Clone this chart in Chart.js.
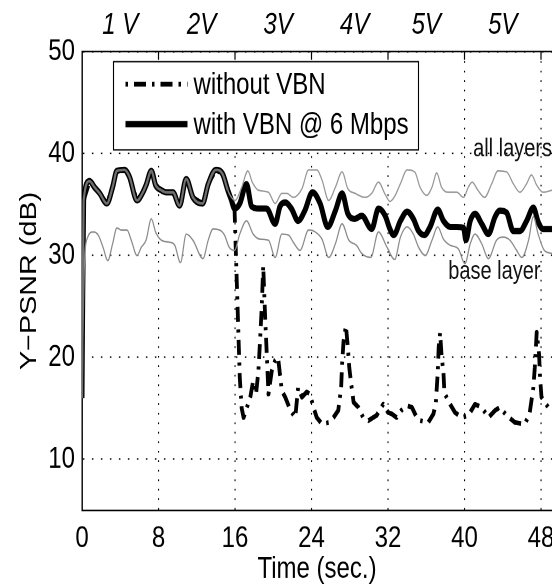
<!DOCTYPE html>
<html>
<head>
<meta charset="utf-8">
<script src="https://cdn.jsdelivr.net/npm/chart.js@4.4.1/dist/chart.umd.min.js"></script>
<style>
  html, body { margin: 0; padding: 0; background: #fff; overflow: hidden; }
  /* the figure is drawn on a 552x467 canvas and shown stretched to 584 tall,
     like the tall, narrow lettering of the original plot */
  #psnr-chart { display: block; width: 552px; height: 584px; }
</style>
</head>
<body>
<canvas id="psnr-chart" width="552" height="467" style="width:552px;height:584px"></canvas>
<script>
// Y-PSNR over time, with and without VBN
const FONT = '"Liberation Sans", Arial, sans-serif';

const xTickValues = [0, 8, 16, 24, 32, 40, 48];
const yTickValues = [10, 20, 30, 40, 50];
const viewTimes = [4, 12.5, 20.5, 28.5, 36, 44];
const viewLabels = ["1 V", "2V", "3V", "4V", "5V", "5V"];

// with VBN @ 6 Mbps (thick black)
const vbnTime = [
  0, 0.17, 0.8, 1.3, 1.85, 2.6, 3.2, 3.65, 4.45, 4.97,
  5.75, 6.37, 6.7, 7.25, 7.7, 8.3, 8.8, 9.5, 10.2, 10.9,
  11.6, 12.6, 13.2, 14.0, 14.7, 15.25, 15.6, 15.95, 16.5, 17.2,
  17.75, 18.45, 19.3, 20.2, 20.7, 21.25, 21.9, 22.6, 23.3, 24.1,
  24.9, 25.7, 26.5, 27.2, 27.8, 28.55, 29.25, 30.3, 31.0, 31.7,
  32.2, 32.6, 33.3, 34.0, 34.65, 35.2, 35.8, 36.4, 37.2, 37.8,
  38.5, 39.2, 39.9, 40.15, 40.6, 41.1, 41.8, 42.5, 43.2, 43.7,
  44.4, 45.1, 45.8, 46.5, 47.2, 47.7, 48.2, 49.15
];
const vbnPsnr = [
  16, 35.4, 37.3, 36.7, 36.1, 35.1, 36.7, 38.3, 38.4, 37.7,
  35.4, 36.2, 36.9, 38.3, 36.9, 36.4, 36.2, 36.2, 34.9, 37.5,
  35.7, 35.1, 37.0, 38.4, 38.0, 36.4, 35.5, 34.6, 35.1, 37.0,
  34.8, 34.6, 34.6, 33.1, 34.8, 35.2, 34.6, 33.4, 34.4, 36.2,
  35.1, 32.8, 34.4, 36.1, 34.1, 33.6, 33.9, 32.6, 34.6, 33.9,
  32.6, 32.0, 33.4, 34.3, 33.6, 32.4, 32.0, 32.8, 34.5, 33.4,
  32.8, 32.8, 32.7, 31.5, 33.4, 34.1, 33.1, 32.1, 33.8, 34.4,
  34.2, 32.4, 32.4, 33.4, 34.7, 33.3, 32.6, 32.6
];

// without VBN after the bandwidth drop at 16 s (dash-dot)
const lossTime = [
  16.1, 16.3, 16.5, 16.7, 16.9, 17.25, 17.6, 17.9, 18.2, 18.45,
  18.6, 18.8, 18.95, 19.15, 19.35, 19.5, 19.85, 20.2, 20.5, 20.9,
  21.25, 21.8, 22.3, 22.6, 23.0, 23.5, 23.85, 24.2, 24.55, 25.1,
  25.8, 26.3, 26.8, 27.1, 27.2, 27.35, 27.6, 27.8, 27.95, 28.15,
  28.4, 28.9, 29.4, 29.95, 30.8, 31.5, 32.0, 32.4, 32.9, 33.4,
  34.0, 34.5, 35.0, 35.35, 36.2, 36.75, 37.0, 37.2, 37.3, 37.45,
  37.6, 37.8, 37.9, 38.5, 39.0, 39.7, 40.4, 41.1, 41.8, 42.5,
  43.2, 43.7, 44.4, 45.3, 46.3, 46.8, 47.2, 47.35, 47.55, 47.8,
  47.9, 48.05, 48.75, 49.15
];
const lossPsnr = [
  30, 24, 18, 15, 14.1, 15.1, 16.1, 17.7, 16.4, 18.7,
  21.3, 25, 29.0, 24, 19.7, 16.4, 18.7, 19.7, 20.0, 16.7,
  16.1, 14.8, 14.1, 17.05, 16.1, 16.6, 16.4, 15.1, 14.1, 13.45,
  13.6, 14.1, 14.8, 17.05, 19.35, 21.6, 23.1, 21.0, 19.0, 17.4,
  15.6, 15.1, 14.1, 13.8, 14.3, 15.4, 14.6, 14.45, 14.1, 14.8,
  15.25, 15.1, 14.1, 13.8, 13.6, 14.45, 15.5, 18.5, 21.0, 22.4,
  20.2, 18.5, 16.5, 15.4, 14.6, 14.1, 14.3, 15.4, 15.1, 14.1,
  14.8, 15.1, 14.3, 13.6, 13.45, 14.45, 17.05, 19.0, 22.45, 20.3,
  18.05, 16.1, 15.1, 14.8
];

// all layers (thin grey, upper) after it leaves the VBN curve
const allLayersTime = [
  15.5, 16.0, 16.7, 17.35, 17.8, 18.45, 19.5, 20.2, 20.9, 21.4,
  22.1, 23.0, 23.7, 24.55, 25.1, 25.8, 26.5, 27.2, 27.8, 28.55,
  29.6, 30.3, 31.0, 31.7, 32.2, 32.7, 33.3, 34.0, 34.8, 35.35,
  36.05, 36.6, 37.1, 37.6, 38.3, 39.2, 39.9, 40.4, 40.8, 41.4,
  42.1, 42.85, 43.5, 44.4, 45.1, 45.8, 46.5, 47.0, 47.55, 48.2,
  49.15
];
const allLayersPsnr = [
  35.9, 35.4, 36.7, 38.3, 37.2, 36.4, 36.2, 35.1, 36.1, 36.1,
  35.7, 36.55, 38.4, 38.4, 37.4, 35.4, 36.7, 38.2, 36.55, 36.1,
  35.7, 36.1, 37.2, 36.0, 35.3, 35.8, 37.05, 38.4, 38.2, 36.7,
  35.9, 36.7, 38.1, 36.7, 36.2, 36.2, 35.7, 36.7, 37.2, 36.4,
  35.7, 37.05, 38.3, 38.2, 37.05, 36.2, 37.05, 37.9, 36.9, 36.2,
  36.4
];

// base layer (thin grey, lower)
const baseTime = [
  0, 0.25, 0.6, 1.15, 1.7, 2.2, 2.7, 3.2, 3.65, 4.1,
  4.7, 5.15, 5.75, 6.2, 6.7, 7.25, 7.7, 8.3, 9.15, 9.7,
  10.3, 10.9, 11.6, 12.65, 13.2, 13.7, 14.4, 14.9, 15.4, 15.95,
  16.5, 17.2, 17.9, 18.6, 19.5, 20.2, 20.9, 21.6, 22.1, 22.8,
  23.7, 24.4, 25.1, 25.8, 26.5, 27.2, 27.9, 28.7, 29.25, 30.2,
  31.0, 31.9, 32.7, 33.3, 34.0, 34.65, 35.2, 35.9, 36.6, 37.2,
  37.8, 38.5, 39.35, 40.05, 40.6, 41.1, 41.8, 42.5, 43.35, 44.05,
  44.75, 45.45, 46.0, 46.7, 47.2, 47.7, 48.35, 49.15
];
const basePsnr = [
  16, 29, 31.8, 32.3, 32.0, 30.8, 29.5, 31.15, 32.7, 32.5,
  32.5, 31.5, 30.0, 30.8, 31.5, 33.6, 32.3, 31.5, 31.3, 31.0,
  29.3, 32.1, 31.5, 29.7, 31.5, 32.6, 32.5, 32.0, 30.8, 30.5,
  32.1, 33.4, 32.1, 31.6, 31.5, 29.8, 32.1, 32.0, 31.3, 30.5,
  32.5, 32.3, 31.6, 29.8, 31.15, 33.1, 31.5, 31.0, 30.2, 29.8,
  32.3, 30.8, 29.6, 31.8, 32.8, 32.1, 30.8, 30.0, 31.5, 32.8,
  31.6, 31.0, 30.65, 29.2, 31.15, 32.1, 31.15, 29.7, 31.5, 31.8,
  31.5, 30.5, 29.8, 31.5, 33.8, 32.1, 30.5, 30.2
];

const notes = ["all layers", "base layer"];
const noteTime = [40.9, 38.3];
const notePsnr = [39.7, 27.7];

const legendOrder = ["without VBN", "with VBN @ 6 Mbps"];

function toPoints(times, values) {
  return times.map((t, i) => ({ x: t, y: values[i] }));
}
function before(times, values, tMax) {
  return toPoints(times, values).filter(p => p.x <= tMax);
}

const withVbn = toPoints(vbnTime, vbnPsnr);
const withoutVbn = before(vbnTime, vbnPsnr, 15.95).concat(toPoints(lossTime, lossPsnr));
const allLayers = before(vbnTime, vbnPsnr, 15.25).concat(toPoints(allLayersTime, allLayersPsnr));
const baseLayer = toPoints(baseTime, basePsnr);

const dashDot = [12, 6, 2.5, 6];

// white box legend in the upper left of the plot
const boxLegend = {
  id: "boxLegend",
  afterDraw(chart) {
    const { ctx, chartArea: a } = chart;
    const x0 = a.left + 31.5, y0 = a.top + 8, w = 305, h = 70.5;
    ctx.save();
    ctx.fillStyle = "#fff";
    ctx.fillRect(x0, y0, w, h);
    ctx.strokeStyle = "#000";
    ctx.lineWidth = 1.1;
    ctx.strokeRect(x0, y0, w, h);
    legendOrder.forEach((label, i) => {
      const ds = chart.data.datasets.find(d => d.label === label);
      const y = y0 + 18 + i * 32;
      ctx.beginPath();
      ctx.setLineDash(ds.borderDash || []);
      ctx.lineDashOffset = ds.borderDash ? 18 : 0;
      ctx.lineWidth = ds.borderWidth;
      ctx.strokeStyle = ds.borderColor;
      ctx.moveTo(x0 + 12, y);
      ctx.lineTo(x0 + 74, y);
      ctx.stroke();
      ctx.setLineDash([]);
      ctx.fillStyle = "#000";
      ctx.font = "24px " + FONT;
      ctx.textBaseline = "middle";
      ctx.fillText(label, x0 + 80, y + 1);
    });
    ctx.restore();
  }
};

// "all layers" / "base layer" notes and the inward ticks on the top border
const plotNotes = {
  id: "plotNotes",
  afterDatasetsDraw(chart) {
    const { ctx, chartArea: a, scales } = chart;
    ctx.save();
    ctx.strokeStyle = "#000";
    ctx.lineWidth = 1.2;
    xTickValues.slice(1).forEach(v => {
      const x = scales.x.getPixelForValue(v);
      ctx.beginPath();
      ctx.moveTo(x, a.top);
      ctx.lineTo(x, a.top + 6.5);
      ctx.stroke();
    });
    ctx.fillStyle = "#111";
    ctx.font = "20px " + FONT;
    ctx.textBaseline = "alphabetic";
    notes.forEach((txt, i) => {
      ctx.fillText(txt, scales.x.getPixelForValue(noteTime[i]), scales.y.getPixelForValue(notePsnr[i]));
    });
    ctx.restore();
  }
};

const early = ctx => ctx.p1.parsed.x <= 15.3;

new Chart(document.getElementById("psnr-chart"), {
  type: "line",
  data: {
    datasets: [
      {
        label: "all layers",
        data: allLayers,
        order: 0,
        borderColor: "#979797",
        borderWidth: 1.2,
        segment: {
          borderColor: ctx => (early(ctx) ? "#6f6f6f" : "#979797"),
          borderWidth: ctx => (early(ctx) ? 2.2 : 1.2),
        },
        cubicInterpolationMode: "monotone",
      },
      {
        label: "base layer",
        data: baseLayer,
        order: 1,
        borderColor: "#8a8a8a",
        borderWidth: 1.2,
        cubicInterpolationMode: "monotone",
      },
      {
        label: "with VBN @ 6 Mbps",
        data: withVbn,
        order: 2,
        borderColor: "#000",
        borderWidth: 5,
        cubicInterpolationMode: "monotone",
      },
      {
        label: "without VBN",
        data: withoutVbn,
        order: 3,
        borderColor: "#000",
        borderWidth: 3.8,
        borderDash: dashDot,
        tension: 0,
      },
    ],
  },
  options: {
    responsive: false,
    devicePixelRatio: 2,
    animation: false,
    events: [],
    layout: { padding: 0 },
    elements: {
      point: { radius: 0 },
      line: { borderCapStyle: "butt", borderJoinStyle: "round" },
    },
    plugins: {
      legend: { display: false },
      tooltip: { enabled: false },
    },
    scales: {
      x: {
        type: "linear",
        position: "bottom",
        min: 0,
        max: 49.15,
        afterBuildTicks: s => { s.ticks = xTickValues.map(v => ({ value: v })); },
        afterFit: s => { s.height = 59; s.paddingLeft = 0; s.paddingRight = 0; },
        grid: { color: "#000", lineWidth: 1.1, drawTicks: false },
        border: { display: true, color: "#000", width: 1.2, dash: [1.4, 6.2] },
        ticks: { color: "#000", padding: 8.5, maxRotation: 0, font: { family: FONT, size: 24 } },
        title: {
          display: true,
          text: "Time (sec.)",
          color: "#000",
          padding: { top: 0, bottom: -3 },
          font: { family: FONT, size: 24 },
        },
      },
      xTop: {
        type: "linear",
        position: "top",
        min: 0,
        max: 49.15,
        afterBuildTicks: s => { s.ticks = viewTimes.map(v => ({ value: v })); },
        afterFit: s => { s.height = 41.3; s.paddingLeft = 0; s.paddingRight = 0; },
        grid: { display: false, drawTicks: false },
        border: { display: true, color: "#000", width: 1.2 },
        ticks: {
          color: "#000",
          padding: 6.5,
          maxRotation: 0,
          autoSkip: false,
          font: { family: FONT, size: 24, style: "italic" },
          callback: (v, i) => viewLabels[i],
        },
      },
      y: {
        type: "linear",
        min: 5,
        max: 50,
        afterBuildTicks: s => { s.ticks = yTickValues.map(v => ({ value: v })); },
        afterFit: s => { s.width = 82; },
        grid: { color: "#000", lineWidth: 1.1, drawTicks: false },
        border: { display: true, color: "#000", width: 1.4, dash: [1.5, 7.5] },
        ticks: { color: "#000", padding: 7, font: { family: FONT, size: 24 } },
        title: {
          display: true,
          text: "Y\u2212PSNR (dB)",
          color: "#000",
          padding: { top: 16, bottom: 0 },
          font: { family: FONT, size: 23 },
        },
      },
    },
  },
  plugins: [boxLegend, plotNotes],
});
</script>
</body>
</html>
